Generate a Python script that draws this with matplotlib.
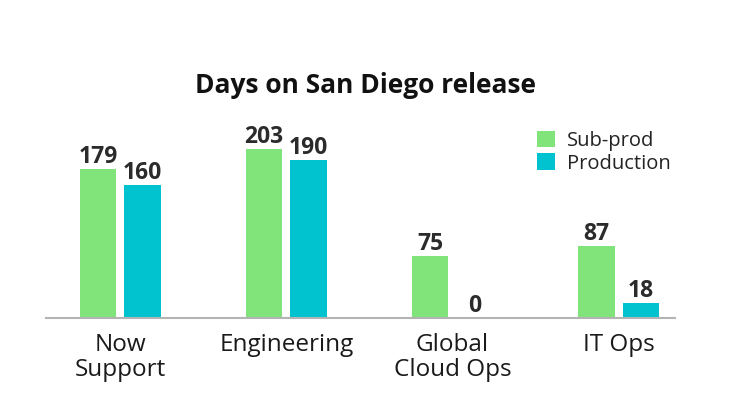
import matplotlib.pyplot as plt
import numpy as np

categories = ['Now\nSupport', 'Engineering', 'Global\nCloud Ops', 'IT Ops']
sub_prod = [179, 203, 75, 87]
production = [160, 190, 0, 18]

GREEN = '#80e47a'
CYAN = '#00c3cf'

plt.rcParams['font.family'] = ['Open Sans', 'DejaVu Sans']

fig = plt.figure(figsize=(7.5, 4.19), dpi=100)
ax = fig.add_axes([0.0607, 0.241, 0.8393, 0.456])

x = np.arange(len(categories))
w = 0.22
off = 0.134
b1 = ax.bar(x - off, sub_prod, w, color=GREEN, label='Sub-prod')
b2 = ax.bar(x + off, production, w, color=CYAN, label='Production')

for bars in (b1, b2):
    for r in bars:
        ax.annotate(f'{int(r.get_height())}',
                    (r.get_x() + r.get_width() / 2, r.get_height()),
                    xytext=(0, 0), textcoords='offset points',
                    ha='center', va='bottom', fontsize=16.5,
                    fontweight='bold', color='#2b2b2b')

ax.set_xlim(-0.45, 3.34)
ax.set_ylim(0, 230)
ax.set_xticks(x)
ax.set_xticklabels(categories, fontsize=17.5, color='#1a1a1a',
                   linespacing=1.05)
ax.tick_params(axis='x', length=0, pad=11)
ax.set_yticks([])
for s in ('top', 'right', 'left'):
    ax.spines[s].set_visible(False)
ax.spines['bottom'].set_color('#b4b4b4')
ax.spines['bottom'].set_linewidth(1.5)

fig.text(0.487, 0.797, 'Days on San Diego release', ha='center', va='center',
         fontsize=19, fontweight='bold', color='#111111')

ax.legend(loc='upper left', bbox_to_anchor=(0.752, 1.075), frameon=False,
          fontsize=14.5, handlelength=0.9, handleheight=0.9,
          handletextpad=0.6, labelspacing=0.12, labelcolor='#222222')

fig.savefig('out.png', dpi=100, facecolor='white')
